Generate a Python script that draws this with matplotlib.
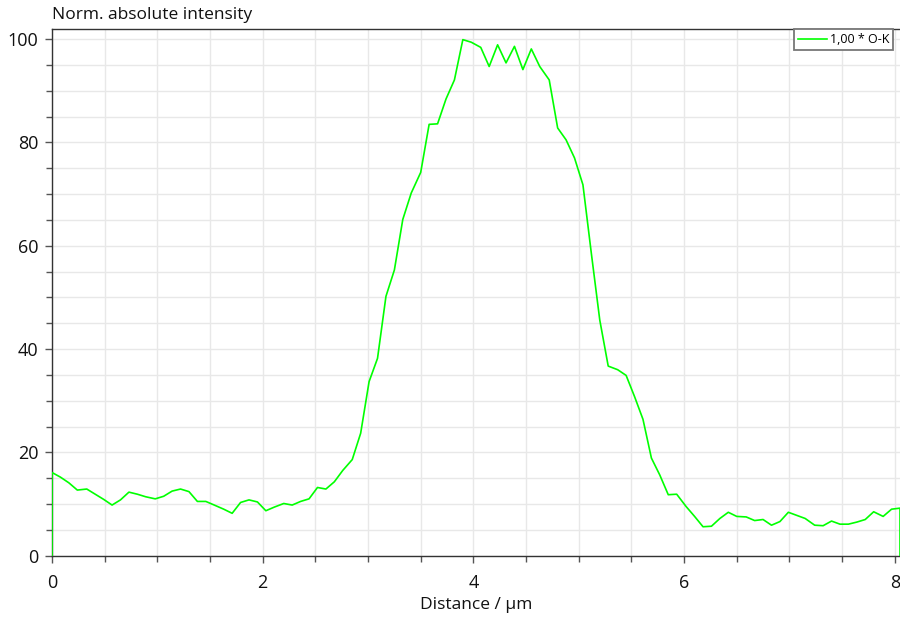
import numpy as np
import matplotlib
matplotlib.use("Agg")
import matplotlib.pyplot as plt
from matplotlib.ticker import MultipleLocator

plt.rcParams['font.family'] = ['Open Sans', 'DejaVu Sans']

# line scan, O-K signal (normalised)
distance_um = [
    0.00, 0.08, 0.16, 0.24, 0.33, 0.41, 0.49, 0.57, 0.65, 0.73,
    0.81, 0.89, 0.98, 1.06, 1.14, 1.22, 1.30, 1.38, 1.46, 1.54,
    1.63, 1.71, 1.79, 1.87, 1.95, 2.03, 2.11, 2.20, 2.28, 2.36,
    2.44, 2.52, 2.60, 2.68, 2.76, 2.85, 2.93, 3.01, 3.09, 3.17,
    3.25, 3.33, 3.41, 3.50, 3.58, 3.66, 3.74, 3.82, 3.90, 3.98,
    4.07, 4.15, 4.23, 4.31, 4.39, 4.47, 4.55, 4.63, 4.72, 4.80,
    4.88, 4.96, 5.04, 5.12, 5.20, 5.28, 5.37, 5.45, 5.53, 5.61,
    5.69, 5.77, 5.85, 5.93, 6.02, 6.10, 6.18, 6.26, 6.34, 6.42,
    6.50, 6.59, 6.67, 6.75, 6.83, 6.91, 6.99, 7.07, 7.15, 7.24,
    7.32, 7.40, 7.48, 7.56, 7.64, 7.72, 7.80, 7.89, 7.97, 8.05,
]
ok_intensity = [
    16.1, 15.2, 14.1, 12.7, 12.9, 11.9, 10.9, 9.8, 10.8, 12.3,
    11.9, 11.4, 11.0, 11.5, 12.5, 12.9, 12.4, 10.5, 10.5, 9.8,
    9.0, 8.2, 10.3, 10.8, 10.4, 8.7, 9.4, 10.1, 9.8, 10.5,
    11.0, 13.2, 12.9, 14.3, 16.5, 18.6, 23.7, 33.7, 38.2, 50.2,
    55.3, 65.1, 70.2, 74.2, 83.5, 83.6, 88.4, 92.1, 99.9, 99.4,
    98.4, 94.7, 98.9, 95.4, 98.6, 94.1, 98.1, 94.7, 92.1, 82.8,
    80.5, 77.0, 71.8, 58.5, 45.6, 36.7, 36.0, 34.9, 30.8, 26.4,
    18.9, 15.6, 11.8, 11.9, 9.5, 7.6, 5.6, 5.7, 7.2, 8.4,
    7.6, 7.5, 6.8, 7.0, 5.9, 6.6, 8.4, 7.8, 7.2, 5.9,
    5.8, 6.7, 6.1, 6.1, 6.5, 7.0, 8.5, 7.6, 9.0, 9.2,
]

# trace starts and ends on the baseline
x = np.concatenate([[distance_um[0]], distance_um, [distance_um[-1]]])
y = np.concatenate([[0.0], ok_intensity, [0.0]])

fig = plt.figure(figsize=(9.0, 6.17), dpi=100)
ax = fig.add_axes([0.0578, 0.0994, 0.9422, 0.8531])

ax.plot(x, y, color='#00ff00', lw=1.2, label='1,00 * O-K', zorder=3)

ax.set_xlim(0, 8.05)
ax.set_ylim(0, 101.9)
ax.xaxis.set_major_locator(MultipleLocator(2))
ax.xaxis.set_minor_locator(MultipleLocator(0.5))
ax.yaxis.set_major_locator(MultipleLocator(20))
ax.yaxis.set_minor_locator(MultipleLocator(5))

ax.grid(True, which='both', color='#e8e8e8', lw=1.0, zorder=0)
ax.set_axisbelow(True)

for side in ('top', 'left', 'bottom'):
    ax.spines[side].set_color('#333333')
    ax.spines[side].set_linewidth(1.0)
ax.spines['right'].set_visible(False)

ax.tick_params(which='both', direction='out', color='#555555', width=1.0)
ax.tick_params(which='major', length=5, labelsize=13, labelcolor='#111111')
ax.tick_params(which='minor', length=4)
ax.tick_params(axis='x', which='major', pad=8)
ax.tick_params(axis='y', which='major', pad=5)

ax.set_xlabel('Distance / µm', fontsize=12.5, color='#111111', labelpad=4)
fig.text(0.0578, 0.962, 'Norm. absolute intensity', fontsize=12.5,
         color='#111111', ha='left', va='bottom')

leg = ax.legend(loc='upper left', bbox_to_anchor=(0.8753, 1.0),
                borderaxespad=0, fontsize=9, handlelength=2.3,
                handletextpad=0.25, borderpad=0.3, frameon=True,
                fancybox=False, framealpha=1)
leg.get_frame().set_edgecolor('#777777')
leg.get_frame().set_linewidth(1.3)

fig.savefig('out.png', dpi=100)
